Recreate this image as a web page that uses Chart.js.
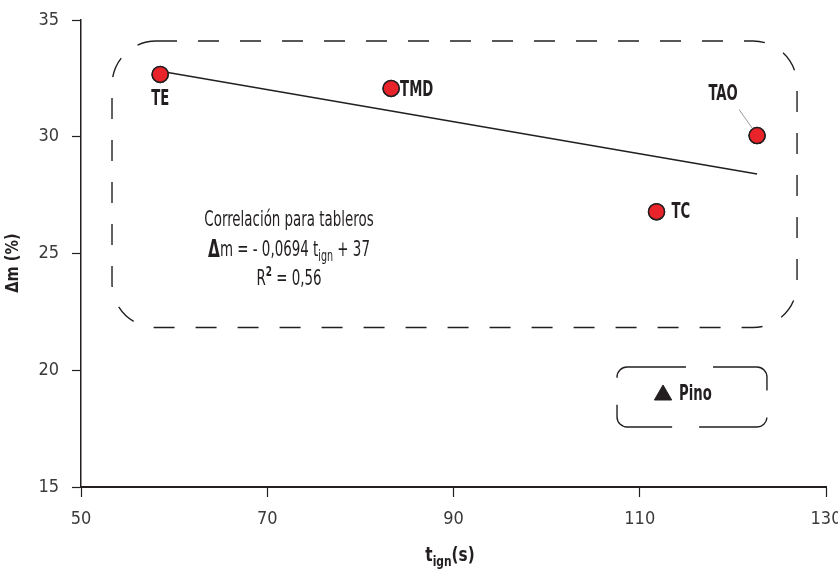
<!DOCTYPE html>
<html>
<head>
<meta charset="utf-8">
<script src="https://cdn.jsdelivr.net/npm/chart.js@4/dist/chart.umd.min.js"></script>
<style>
  html, body { margin: 0; padding: 0; background: #ffffff; }
  #wrap { width: 838px; height: 572px; }
</style>
</head>
<body>
<div id="wrap"><canvas id="c" width="838" height="572"></canvas></div>
<script>
// Ignition time (s) and mass loss (%) for each board type
const boardNames = ['TE', 'TMD', 'TC', 'TAO'];
const tIgn = [58.5, 83.3, 111.8, 122.6];
const deltaM = [32.67, 32.07, 26.79, 30.05];

// Pine reference sample
const pinoT = [112.5];
const pinoM = [18.94];

// Fitted line for boards (end points)
const fitT = [58.4, 122.6];
const fitM = [32.82, 28.4];

// Axis ticks
const xTicks = [50, 70, 90, 110, 130];
const yTicks = [15, 20, 25, 30, 35];

const FONT = '"DejaVu Sans Condensed", "DejaVu Sans", sans-serif';
const INK = '#231f20';

const boardPoints = tIgn.map((t, i) => ({ x: t, y: deltaM[i] }));
const pinoPoints = pinoT.map((t, i) => ({ x: t, y: pinoM[i] }));
const fitPoints = fitT.map((t, i) => ({ x: t, y: fitM[i] }));

// text squeezed horizontally to a condensed look
function narrowText(ctx, str, x, y, font, align, sx) {
  ctx.save();
  ctx.font = font;
  ctx.textAlign = align;
  ctx.translate(x, y);
  ctx.scale(sx, 1);
  ctx.fillText(str, 0, 0);
  ctx.restore();
}

// a run of pieces (sub/superscripts) centred on cx
function narrowRun(ctx, parts, cx, y, sx) {
  ctx.save();
  let total = 0;
  parts.forEach(p => { ctx.font = p.f; p.w = ctx.measureText(p.t).width * sx; total += p.w; });
  let px = cx - total / 2;
  parts.forEach(p => {
    narrowText(ctx, p.t, px, y + (p.dy || 0), p.f, 'left', sx);
    px += p.w;
  });
  ctx.restore();
}

function dashedBox(ctx, xs, ys, x0, x1, y0, y1, r, dash, offset) {
  const L = xs.getPixelForValue(x0), R = xs.getPixelForValue(x1);
  const T = ys.getPixelForValue(y0), B = ys.getPixelForValue(y1);
  ctx.save();
  ctx.strokeStyle = INK;
  ctx.lineWidth = 1.4;
  ctx.setLineDash(dash);
  ctx.lineDashOffset = offset;
  ctx.beginPath();
  ctx.roundRect(L, T, R - L, B - T, r);
  ctx.stroke();
  ctx.restore();
}

const overlay = {
  id: 'overlay',
  afterDatasetsDraw(chart) {
    const { ctx, scales: { x, y }, chartArea } = chart;
    // dashed grouping boxes
    dashedBox(ctx, x, y, 53.33, 126.89, 34.1, 21.83, 44, [21, 21], 0);
    dashedBox(ctx, x, y, 107.56, 123.66, 20.14, 17.57, 10, [73, 27], 14);

    // leader line for TAO
    const taoI = boardNames.indexOf('TAO');
    const px = x.getPixelForValue(tIgn[taoI]);
    const py = y.getPixelForValue(deltaM[taoI]);
    ctx.save();
    ctx.strokeStyle = '#9a9a9a';
    ctx.lineWidth = 1;
    ctx.beginPath();
    ctx.moveTo(px - 18, py - 26);
    ctx.lineTo(px - 1, py - 2);
    ctx.stroke();
    ctx.restore();

    // redraw board points on top of the leader line
    ctx.save();
    boardPoints.forEach(p => {
      const cx = x.getPixelForValue(p.x), cy = y.getPixelForValue(p.y);
      ctx.beginPath();
      ctx.arc(cx, cy, 8, 0, Math.PI * 2);
      ctx.fillStyle = '#e8242a';
      ctx.fill();
      ctx.lineWidth = 1.5;
      ctx.strokeStyle = INK;
      ctx.stroke();
    });
    ctx.restore();

    // point labels
    ctx.save();
    ctx.fillStyle = INK;
    ctx.textBaseline = 'middle';
    const LBL = 'bold 21px ' + FONT;
    const offs = {
      TE:  { dx: 0,   dy: 25,  align: 'center' },
      TMD: { dx: 9,   dy: 2,   align: 'left' },
      TC:  { dx: 15,  dy: 1,   align: 'left' },
      TAO: { dx: -34, dy: -41, align: 'center' }
    };
    boardNames.forEach((n, i) => {
      const cx = x.getPixelForValue(tIgn[i]), cy = y.getPixelForValue(deltaM[i]);
      const o = offs[n];
      narrowText(ctx, n, cx + o.dx, cy + o.dy, LBL, o.align, 0.7);
    });
    const pX = x.getPixelForValue(pinoT[0]), pY = y.getPixelForValue(pinoM[0]);
    narrowText(ctx, 'Pino', pX + 16, pY, LBL, 'left', 0.7);
    ctx.restore();

    // correlation annotation
    ctx.save();
    ctx.fillStyle = INK;
    ctx.textBaseline = 'middle';
    const cx = 289;
    const REG = '21px ' + FONT;
    const SUB = '15px ' + FONT;
    narrowRun(ctx, [{ t: 'Correlación para tableros', f: REG }], cx, 221, 0.71);
    narrowRun(ctx, [
      { t: 'Δ', f: 'bold 24px ' + FONT },
      { t: 'm = - 0,0694 t', f: REG },
      { t: 'ign', f: SUB, dy: 6 },
      { t: ' + 37', f: REG }
    ], cx, 251, 0.71);
    narrowRun(ctx, [
      { t: 'R', f: REG },
      { t: '2', f: 'bold 14px ' + FONT, dy: -8 },
      { t: ' = 0,56', f: REG }
    ], cx, 280, 0.71);
    ctx.restore();

    // axis titles
    ctx.save();
    ctx.fillStyle = INK;
    ctx.textBaseline = 'middle';
    narrowRun(ctx, [
      { t: 't', f: 'bold 20px ' + FONT },
      { t: 'ign', f: 'bold 14px ' + FONT, dy: 6 },
      { t: '(s)', f: 'bold 20px ' + FONT }
    ], 450, 556, 0.85);

    ctx.translate(14, 263);
    ctx.rotate(-Math.PI / 2);
    narrowText(ctx, 'Δm (%)', 0, 0, 'bold 17px ' + FONT, 'center', 0.95);
    ctx.restore();
  }
};

new Chart(document.getElementById('c'), {
  type: 'scatter',
  data: {
    datasets: [
      {
        label: 'Ajuste tableros',
        type: 'line',
        data: fitPoints,
        borderColor: INK,
        borderWidth: 1.5,
        pointRadius: 0,
        fill: false,
        order: 3
      },
      {
        label: 'Tableros',
        data: boardPoints,
        pointRadius: 8,
        pointBackgroundColor: '#e8242a',
        pointBorderColor: INK,
        pointBorderWidth: 1.5,
        order: 2
      },
      {
        label: 'Pino',
        data: pinoPoints,
        pointStyle: 'triangle',
        pointRadius: 10,
        pointBackgroundColor: '#231f20',
        pointBorderColor: '#231f20',
        pointBorderWidth: 1,
        order: 1
      }
    ]
  },
  options: {
    responsive: false,
    animation: false,
    layout: { padding: { top: 20, right: 12, left: 0, bottom: 0 } },
    plugins: { legend: { display: false }, tooltip: { enabled: false } },
    scales: {
      x: {
        type: 'linear',
        min: 50, max: 130,
        afterBuildTicks: s => { s.ticks = xTicks.map(v => ({ value: v })); },
        afterFit: s => { s.height = 85; s.paddingLeft = 0; s.paddingRight = 0; },
        border: { display: true, color: INK, width: 2 },
        grid: { drawOnChartArea: false, drawTicks: true, tickLength: 10, color: INK, tickWidth: 1.2 },
        ticks: { color: '#3a3a3a', padding: 12, font: { family: FONT, size: 18 } }
      },
      y: {
        type: 'linear',
        min: 15, max: 35,
        afterBuildTicks: s => { s.ticks = yTicks.map(v => ({ value: v })); },
        afterFit: s => { s.width = 81; s.paddingTop = 0; s.paddingBottom = 0; },
        border: { display: true, color: INK, width: 1.5 },
        grid: { drawOnChartArea: false, drawTicks: true, tickLength: 9, color: INK, tickWidth: 1.2 },
        ticks: { color: '#3a3a3a', padding: 13, font: { family: FONT, size: 18 } }
      }
    }
  },
  plugins: [overlay]
});
</script>
</body>
</html>
